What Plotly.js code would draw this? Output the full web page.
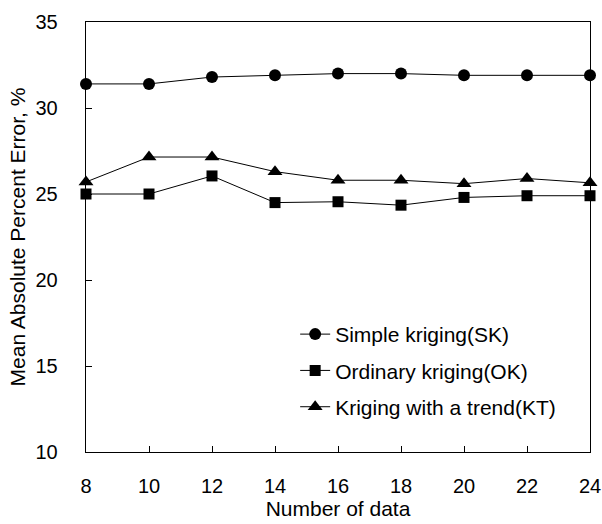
<!DOCTYPE html>
<html>
<head>
<meta charset="utf-8">
<script src="https://cdn.plot.ly/plotly-3.0.1.min.js"></script>
<style>html,body{margin:0;padding:0;background:#fff;}#chart{width:602px;height:524px;}</style>
</head>
<body>
<div id="chart"></div>
<script>
const numberOfData = [8, 10, 12, 14, 16, 18, 20, 22, 24];
const simpleKriging = [31.4, 31.4, 31.8, 31.9, 32.0, 32.0, 31.9, 31.9, 31.9];
const ordinaryKriging = [25.0, 25.0, 26.05, 24.5, 24.55, 24.35, 24.8, 24.9, 24.9];
const krigingTrend = [25.7, 27.15, 27.15, 26.3, 25.8, 25.8, 25.6, 25.9, 25.65];
const seriesNames = ["Simple kriging(SK)", "Ordinary kriging(OK)", "Kriging with a trend(KT)"];
const xTicks = [8, 10, 12, 14, 16, 18, 20, 22, 24];
const yTicks = [10, 15, 20, 25, 30, 35];

const fontFam = "Liberation Sans, Arial, sans-serif";
function mk(y, name, symbol, size, grp) {
  return {
    x: numberOfData, y: y, name: name, type: 'scatter', mode: 'lines+markers',
    legendgroup: grp,
    line: {color: '#000', width: 1},
    marker: {symbol: symbol, size: size, color: '#000'},
    cliponaxis: false
  };
}
const data = [
  mk(simpleKriging, seriesNames[0], 'circle', 12, 'a'),
  mk(ordinaryKriging, seriesNames[1], 'square', 11, 'b'),
  mk(krigingTrend, seriesNames[2], 'triangle-up', 13, 'c')
];
const layout = {
  width: 602, height: 524,
  margin: {l: 86, r: 12, t: 22, b: 72},
  paper_bgcolor: '#fff', plot_bgcolor: '#fff',
  font: {family: fontFam, color: '#000', size: 20},
  showlegend: true,
  legend: {x: 0.415, y: 0.321, xanchor: 'left', yanchor: 'top', bgcolor: 'rgba(0,0,0,0)',
           font: {size: 21, family: fontFam}, tracegroupgap: 6},
  xaxis: {
    range: [8, 24], tickvals: xTicks, ticktext: xTicks.map(String),
    showline: true, linecolor: '#000', linewidth: 1.3, mirror: true,
    ticks: 'inside', ticklen: 6, tickcolor: '#000', showgrid: false, zeroline: false,
    ticklabelstandoff: 16,
    tickfont: {size: 20, family: fontFam},
    title: {text: 'Number of data', font: {size: 21, family: fontFam}, standoff: 2}
  },
  yaxis: {
    range: [10, 35], tickvals: yTicks, ticktext: yTicks.map(String),
    showline: true, linecolor: '#000', linewidth: 1.3, mirror: true,
    ticks: 'inside', ticklen: 6, tickcolor: '#000', showgrid: false, zeroline: false,
    ticklabelstandoff: 23,
    tickfont: {size: 20, family: fontFam},
    title: {text: 'Mean Absolute Percent Error, %', font: {size: 21, family: fontFam}, standoff: 4}
  }
};
Plotly.newPlot('chart', data, layout, {displayModeBar: false, staticPlot: true});
</script>
</body>
</html>
